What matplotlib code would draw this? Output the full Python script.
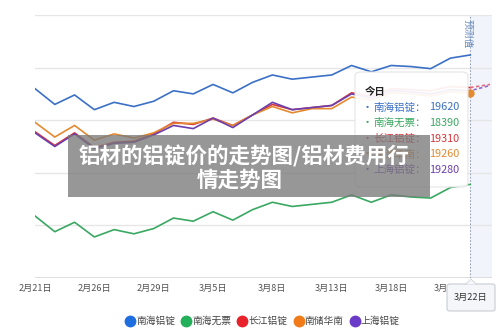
import matplotlib
matplotlib.use("Agg")
import matplotlib.pyplot as plt
from matplotlib.patches import FancyBboxPatch, Rectangle, Polygon
from matplotlib.lines import Line2D

plt.rcParams['font.family'] = ['Noto Sans CJK SC', 'DejaVu Sans']

dates = ["2/21", "2/22", "2/23", "2/26", "2/27", "2/28", "2/29", "3/1", "3/4", "3/5",
         "3/6", "3/7", "3/8", "3/11", "3/12", "3/13", "3/14", "3/15", "3/18", "3/19",
         "3/20", "3/21", "3/22"]
tick_idx = [0, 3, 6, 9, 12, 15, 18, 21]
tick_labels = ["2月21日", "2月26日", "2月29日", "3月5日", "3月8日", "3月13日", "3月18日", "3月21日"]

series_names = ["南海铝锭", "南海无票", "长江铝锭", "南储华南", "上海铝锭"]
nanhai = [19300, 19150, 19240, 19100, 19170, 19130, 19180, 19280, 19250, 19340, 19260, 19360,
          19430, 19390, 19410, 19430, 19520, 19460, 19520, 19510, 19490, 19590, 19620]
nanhai_wp = [18090, 17940, 18030, 17890, 17960, 17920, 17970, 18070, 18040, 18130, 18050, 18150,
             18220, 18180, 18200, 18220, 18290, 18220, 18290, 18270, 18260, 18360, 18390]
changjiang = [18890, 18760, 18880, 18740, 18790, 18800, 18870, 18980, 18960, 19020, 18950, 19050,
              19150, 19100, 19120, 19140, 19260, 19230, 19300, 19290, 19280, 19320, 19310]
nanchu = [18980, 18840, 18950, 18810, 18870, 18830, 18880, 18970, 18970, 19010, 18950, 19050,
          19130, 19070, 19110, 19110, 19220, 19190, 19260, 19250, 19230, 19270, 19260]
shanghai = [18880, 18750, 18870, 18730, 18780, 18790, 18860, 18950, 18920, 19020, 18930, 19050,
            19170, 19100, 19120, 19140, 19250, 19210, 19280, 19270, 19250, 19290, 19280]
forecast_red = [19310, 19340]
forecast_purple = [19280, 19330]

colors = ["#3a70c6", "#3aa862", "#d9363b", "#e4892f", "#6b3fae"]
legend_colors = ["#1f6ee0", "#22b05a", "#e8222b", "#f07b18", "#6a3bc8"]

W, H = 500, 333
fig = plt.figure(figsize=(5, 3.33), dpi=100)
ax = fig.add_axes([35 / W, 1 - 278 / H, (492 - 35) / W, (278 - 15) / H])
ax.set_xlim(0, 23.1)
ax.set_ylim(17500, 20000)

x = list(range(len(dates)))
ax.axvspan(22, 23.1, color="#f1f5fb", zorder=0, lw=0)
for yv in [18000, 18500, 19000, 19500, 20000]:
    ax.axhline(yv, color="#e6e6e6", lw=1.0, zorder=1)
ax.axhline(17500, color="#d9d9d9", lw=1.2, zorder=1)

data = [nanhai, nanhai_wp, changjiang, nanchu, shanghai]
for vals, c in zip(data, colors):
    ax.plot(x, vals, color=c, lw=1.2, zorder=3, solid_joinstyle="round")

ax.plot([22, 23], forecast_red, color="#e06a80", lw=1.2, ls=(0, (2, 1.5)), zorder=3)
ax.plot([22, 23], forecast_purple, color="#8a6ad0", lw=1.2, ls=(1.5, (2, 1.5)), zorder=3)
ax.plot([22], [nanchu[-1]], marker="o", ms=5, color=colors[3], zorder=4)

ax.axvline(22, color="#9aa5b5", lw=0.8, ls=(0, (1.5, 1.5)), zorder=2)

for s in ax.spines.values():
    s.set_visible(False)
ax.set_yticks([])
ax.set_xticks(tick_idx)
ax.set_xticklabels(tick_labels, fontsize=6.6, color="#555555")
ax.tick_params(axis="x", length=0, pad=4)

ax.text(21.85, 19960, "预测值", rotation=-90, fontsize=7, color="#6a8cc0",
        ha="center", va="top", zorder=5)

def fy(py):
    return 1 - py / H

tip = FancyBboxPatch((355 / W, fy(187)), (468 - 355) / W, (187 - 72) / H,
                     boxstyle="round,pad=0,rounding_size=0.012", transform=fig.transFigure,
                     facecolor="white", edgecolor="#e2e2e2", lw=0.8, alpha=0.93, zorder=10)
fig.patches.append(tip)
fig.text(365 / W, fy(91.5), "今日", fontsize=7.5, color="#222222", weight="bold",
         va="center", ha="left", zorder=11)
values = [nanhai[-1], nanhai_wp[-1], changjiang[-1], nanchu[-1], shanghai[-1]]
rows_y = [107.5, 123, 139, 154.5, 170]
for name, val, c, py in zip(series_names, values, colors, rows_y):
    fig.text(367 / W, fy(py), "•", fontsize=8, color=c, va="center", ha="center", zorder=11)
    fig.text(373 / W, fy(py), name + "：", fontsize=7.6, color=c, va="center", ha="left", zorder=11)
    fig.text(459 / W, fy(py), str(val), fontsize=7.8, color=c, va="center", ha="right", zorder=11)

lab = FancyBboxPatch((447 / W, fy(311)), (495 - 447) / W, (311 - 284) / H,
                     boxstyle="round,pad=0,rounding_size=0.006", transform=fig.transFigure,
                     facecolor="#f4f6f9", edgecolor="#c8cdd4", lw=0.8, zorder=10)
fig.patches.append(lab)
tri = Polygon([(466 / W, fy(284.3)), (476 / W, fy(284.3)), (471 / W, fy(279.5))],
              closed=True, transform=fig.transFigure, facecolor="#f4f6f9",
              edgecolor="none", zorder=11)
fig.patches.append(tri)
fig.add_artist(Line2D([466 / W, 471 / W, 476 / W], [fy(284), fy(279.5), fy(284)],
                      color="#c8cdd4", lw=0.8, zorder=11))
fig.text(471 / W, fy(297.5), "3月22日", fontsize=6.6, color="#333333",
         ha="center", va="center", zorder=12)

handles = [Line2D([], [], marker="o", ls="none", ms=7.5, color=c) for c in legend_colors]
fig.legend(handles, series_names, loc="center", bbox_to_anchor=(262 / W, fy(321)),
           ncol=5, frameon=False, fontsize=7, handletextpad=0.0, columnspacing=0.55,
           handlelength=1.2, labelcolor="#444444")

banner = Rectangle((68 / W, fy(197)), (430 - 68) / W, (197 - 135) / H,
                   transform=fig.transFigure, facecolor="#7a7a7a", alpha=0.78,
                   edgecolor="none", zorder=20)
fig.patches.append(banner)
fig.text(244 / W, fy(156), "铝材的铝锭价的走势图/铝材费用行", fontsize=15.5, color="white",
         weight="bold", ha="center", va="center", zorder=21)
fig.text(240 / W, fy(180), "情走势图", fontsize=15.5, color="white",
         weight="bold", ha="center", va="center", zorder=21)

fig.savefig("out.png", dpi=100)
